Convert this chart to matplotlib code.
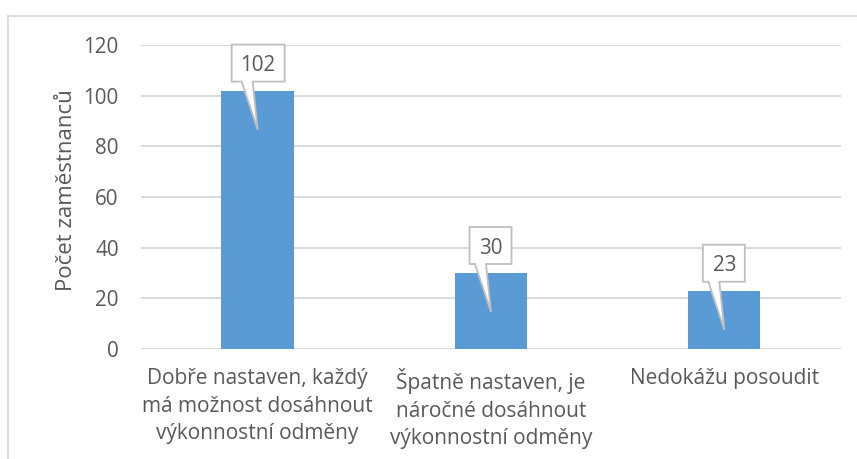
import matplotlib
matplotlib.use("Agg")
import matplotlib.pyplot as plt
import matplotlib.transforms as mtransforms
from matplotlib.patches import Polygon
from matplotlib.lines import Line2D

categories = ["Dobře nastaven, každý\nmá možnost dosáhnout\nvýkonnostní odměny",
              "Špatně nastaven, je\nnáročné dosáhnout\nvýkonnostní odměny",
              "Nedokážu posoudit"]
values = [102, 30, 23]
yticks = [0, 20, 40, 60, 80, 100, 120]
ylabel = "Počet zaměstnanců"

TEXT = "#595959"
GRID = "#D9D9D9"
BAR = "#5B9BD5"
FONT = "Open Sans"
FS_TICK = 14.9
FS_CAT = 15
FS_YLAB = 16
FS_VAL = 14.9

plt.rcParams['font.family'] = [FONT, 'DejaVu Sans']

W, H = 857, 459
fig = plt.figure(figsize=(W / 100, H / 100), dpi=100)
ax = fig.add_axes([141 / W, 1 - 349 / H, 700 / W, 304 / H])

x = list(range(len(values)))
ax.bar(x, values, width=0.31, color=BAR, zorder=2)
ax.set_xlim(-0.5, len(values) - 0.5)
ax.set_ylim(0, 120)
ax.set_yticks(yticks)
ax.set_yticklabels([str(t) for t in yticks], fontsize=FS_TICK, color=TEXT)
ax.set_xticks(x)
ax.set_xticklabels(categories, fontsize=FS_CAT, color=TEXT, linespacing=1.4, va="top")
ax.tick_params(axis="both", length=0)
ax.tick_params(axis="y", pad=16)
ax.tick_params(axis="x", pad=14)
for s in ax.spines.values():
    s.set_visible(False)
ax.yaxis.grid(True, color=GRID, linewidth=1.4, zorder=0)
ax.set_axisbelow(True)
ax.set_ylabel(ylabel, fontsize=FS_YLAB, color=TEXT, labelpad=5)
ax.yaxis.label.set_y(0.5 + 7 / 304)

# callouts
for xi, v in zip(x, values):
    label = str(v)
    half_l = 26 if len(label) >= 3 else 21.5
    half_r = 27 if len(label) >= 3 else 20.5
    B, T = 9, 46
    pts = [(-half_l, B), (-16, B), (0, -39), (-5, B), (half_r, B), (half_r, T), (-half_l, T)]
    tr = mtransforms.Affine2D() + mtransforms.ScaledTranslation(xi, v, ax.transData)
    poly = Polygon(pts, closed=True, transform=tr, facecolor="white", edgecolor="#BFBFBF",
                   linewidth=1.3, zorder=5, clip_on=False)
    ax.add_patch(poly)
    ttr = mtransforms.Affine2D().translate(0, (B + T) / 2) + mtransforms.ScaledTranslation(xi, v, ax.transData)
    ax.text(0, 0, label, transform=ttr, ha="center", va="center_baseline", fontsize=FS_VAL,
            color=TEXT, zorder=6)

# chart frame (partially visible)
fig.add_artist(Line2D([8 / W, 1.0], [1 - 16 / H, 1 - 16 / H], color=GRID, linewidth=1.3,
                      transform=fig.transFigure))
fig.add_artist(Line2D([8 / W, 8 / W], [1 - 16 / H, 0], color=GRID, linewidth=1.3,
                      transform=fig.transFigure))

fig.savefig("out.png", dpi=100, facecolor="white")
